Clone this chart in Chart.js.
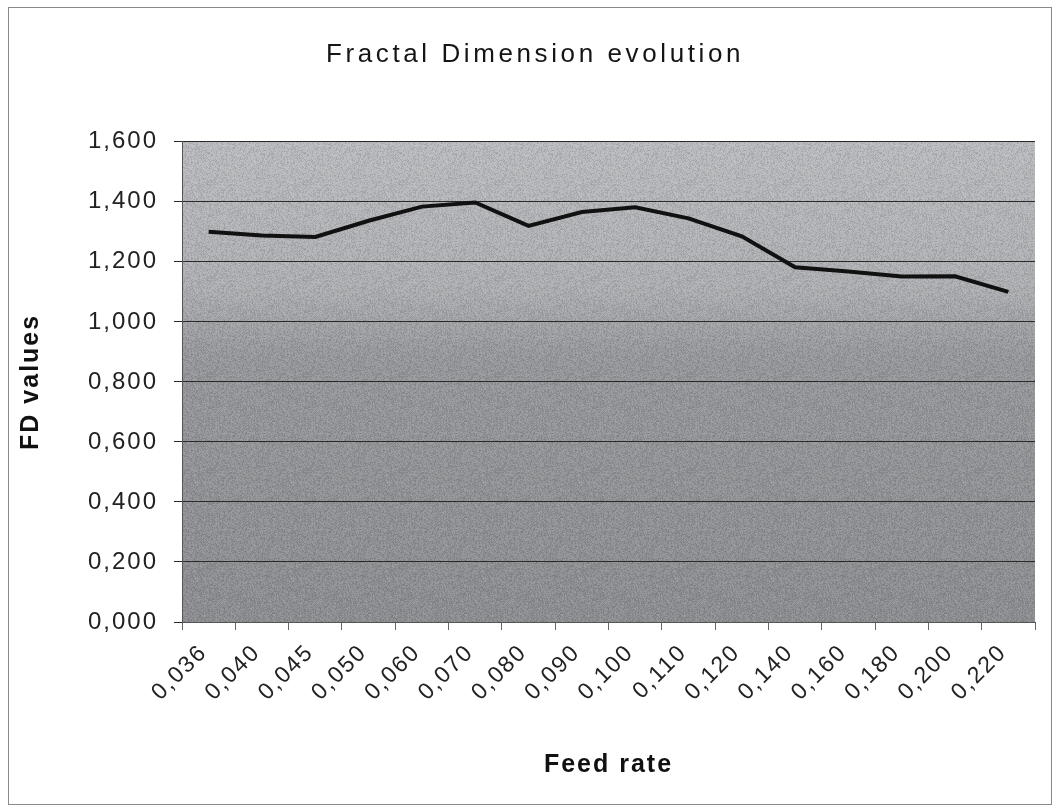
<!DOCTYPE html>
<html>
<head>
<meta charset="utf-8">
<script src="https://cdn.jsdelivr.net/npm/chart.js@4.4.0/dist/chart.umd.min.js"></script>
<style>
  html, body { margin: 0; padding: 0; background: #fff; }
  #wrap { width: 1056px; height: 810px; }
</style>
</head>
<body>
<div id="wrap"><canvas id="chart" width="1056" height="810"></canvas></div>
<script>
const feedRates = ["0,036", "0,040", "0,045", "0,050", "0,060", "0,070", "0,080", "0,090",
  "0,100", "0,110", "0,120", "0,140", "0,160", "0,180", "0,200", "0,220"];
const fdValues = [1.300, 1.288, 1.283, 1.337, 1.384, 1.398, 1.320, 1.366,
  1.382, 1.345, 1.285, 1.182, 1.168, 1.151, 1.152, 1.100];
const yTicks = [0, 0.2, 0.4, 0.6, 0.8, 1.0, 1.2, 1.4, 1.6];
const chartTitle = "Fractal Dimension evolution";

const fmt = (v) => v.toFixed(3).replace(".", ",");

// grainy texture like the scanned plot area (fixed hash, not data)
function makeGrain() {
  const c = document.createElement("canvas");
  c.width = 96; c.height = 96;
  const g = c.getContext("2d");
  const img = g.createImageData(96, 96);
  for (let i = 0; i < 96 * 96; i++) {
    let h = (i * 2654435761) >>> 0;
    h = ((h ^ (h >>> 15)) * 2246822519) >>> 0;
    h = (h ^ (h >>> 13)) & 255;
    const light = h > 127;
    img.data[i * 4] = img.data[i * 4 + 1] = img.data[i * 4 + 2] = light ? 255 : 0;
    img.data[i * 4 + 3] = Math.abs(h - 128) / 4;
  }
  g.putImageData(img, 0, 0);
  return c;
}
const grain = makeGrain();

// the scan has widely spaced lettering
const spacing = {
  id: "spacing",
  beforeLayout(chart) { chart.ctx.letterSpacing = "2px"; },
  beforeDraw(chart) { chart.ctx.letterSpacing = "2px"; },
};

// plot background, outer frame and the title
const frame = {
  id: "frame",
  beforeDraw(chart) {
    const { ctx, chartArea: a } = chart;
    ctx.save();
    const g = ctx.createLinearGradient(0, a.top, 0, a.bottom);
    g.addColorStop(0, "#b9bbbe");
    g.addColorStop(0.3, "#adafb2");
    g.addColorStop(0.45, "#95979a");
    g.addColorStop(1, "#8b8d90");
    ctx.fillStyle = g;
    ctx.fillRect(a.left, a.top, a.right - a.left, a.bottom - a.top);
    ctx.fillStyle = ctx.createPattern(grain, "repeat");
    ctx.fillRect(a.left, a.top, a.right - a.left, a.bottom - a.top);
    ctx.strokeStyle = "#8a8a8a";
    ctx.lineWidth = 1;
    ctx.strokeRect(8.5, 7.5, 1043, 797);
    ctx.restore();
  },
  afterDraw(chart) {
    const { ctx } = chart;
    ctx.save();
    ctx.letterSpacing = "3.6px";
    ctx.font = "26px 'Liberation Sans'";
    ctx.fillStyle = "#151515";
    ctx.textAlign = "center";
    ctx.textBaseline = "middle";
    ctx.fillText(chartTitle, 535, 55);
    ctx.restore();
  },
};

new Chart(document.getElementById("chart"), {
  type: "line",
  data: {
    labels: feedRates,
    datasets: [
      {
        label: "FD",
        data: fdValues,
        borderColor: "#111",
        borderWidth: 4,
        pointRadius: 0,
        tension: 0,
      },
    ],
  },
  options: {
    responsive: false,
    animation: false,
    layout: { padding: { left: 8, right: 21, top: 0, bottom: 0 } },
    plugins: {
      legend: { display: false },
      tooltip: { enabled: false },
      title: {
        display: true,
        text: chartTitle,
        color: "rgba(0,0,0,0)",
        font: { family: "Liberation Sans", size: 24, weight: "normal" },
        padding: { top: 40, bottom: 73 },
      },
    },
    scales: {
      x: {
        offset: true,
        grid: { offset: true, drawOnChartArea: false, color: "#666", tickLength: 8 },
        border: { color: "#555" },
        ticks: {
          maxRotation: 45,
          minRotation: 45,
          autoSkip: false,
          color: "#222",
          font: { family: "Liberation Sans", size: 23 },
          padding: 9,
          labelOffset: -5,
        },
        title: {
          display: true,
          text: "Feed rate",
          color: "#111",
          font: { family: "Liberation Sans", size: 25, weight: "bold" },
          padding: { top: 0, bottom: 30 },
        },
        afterFit(scale) { scale.height = 188; },
      },
      y: {
        min: 0,
        max: 1.6,
        afterBuildTicks(scale) { scale.ticks = yTicks.map((v) => ({ value: v })); },
        grid: { color: "#2a2a2a", tickLength: 8 },
        border: { color: "#555" },
        ticks: {
          color: "#222",
          font: { family: "Liberation Sans", size: 24 },
          padding: 16,
          callback: (v) => fmt(v),
        },
        title: {
          display: true,
          text: "FD values",
          color: "#111",
          font: { family: "Liberation Sans", size: 25, weight: "bold" },
          padding: { top: 8, bottom: 0 },
        },
        afterFit(scale) { scale.width = 174; },
      },
    },
  },
  plugins: [spacing, frame],
});
</script>
</body>
</html>
